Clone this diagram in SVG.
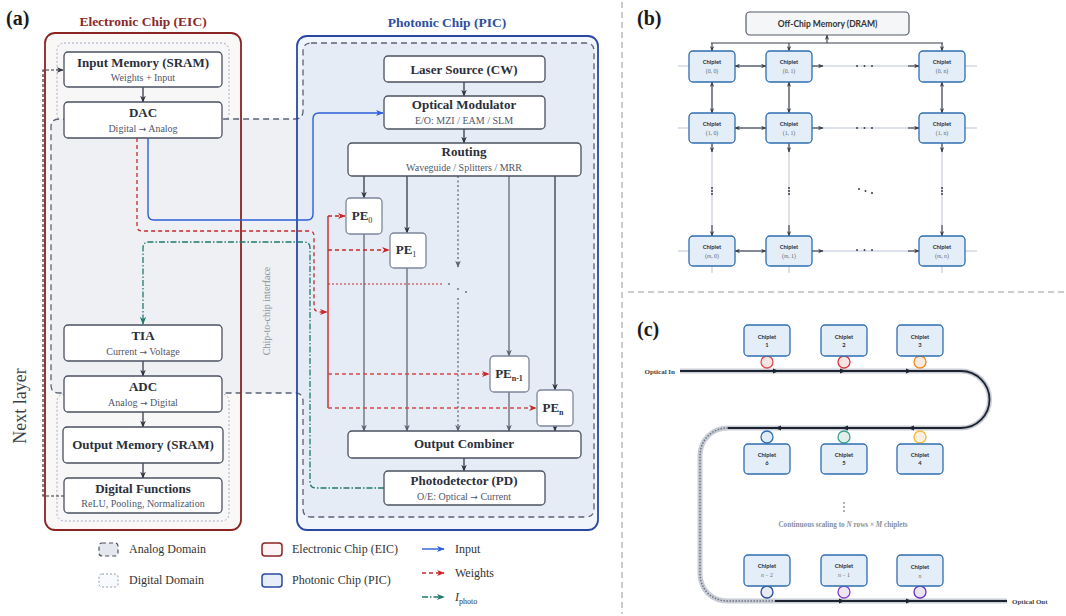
<svg xmlns="http://www.w3.org/2000/svg" width="1066" height="616" viewBox="0 0 1066 616">
<defs>
<style>
.t{font-family:'Liberation Serif','DejaVu Serif',serif;font-weight:bold;font-size:13px;fill:#2b2f3a;text-anchor:middle}
.s{font-family:'Liberation Serif','DejaVu Serif',serif;font-size:10px;fill:#50566a;text-anchor:middle}
.ar{font-family:'DejaVu Sans',sans-serif;font-size:9px}
.node{fill:#ffffff;stroke:#4a5060;stroke-width:1.3}
.pe{fill:#ffffff;stroke:#7d879a;stroke-width:1.3}
.ln{stroke:#353b4a;stroke-width:1.3;fill:none}
.lg{stroke:#6b7280;stroke-width:1.4;fill:none}
.leg{font-family:'Liberation Serif','DejaVu Serif',serif;font-size:12px;fill:#333}
.pl{font-family:'Liberation Serif','DejaVu Serif',serif;font-weight:bold;font-size:20px;fill:#1a1a1a}
.cp{fill:#e4eef9;stroke:#2f6db0;stroke-width:1.3}
.cl{font-family:Lato,'Liberation Sans',sans-serif;font-weight:bold;font-size:5.8px;fill:#2b2f3a;text-anchor:middle}
.ci{font-family:'Liberation Serif','DejaVu Serif',serif;font-size:5.8px;fill:#666;text-anchor:middle}
.grid{stroke:#dde2ea;stroke-width:2;fill:none}
.bl{stroke:#3a3f4c;stroke-width:1.1;fill:none}
.wg0{stroke:#c9cdd5;stroke-width:5;fill:none}
.wg{stroke:#1c2230;stroke-width:1.8;fill:none}
.sep{stroke:#9a9a9a;stroke-width:1;stroke-dasharray:6 4;fill:none}
</style>
<path id="analogShape" d="M311,43 H586 Q594,43 594,51 V509 Q594,517 586,517 H311 Q303,517 303,509 V401 Q303,393 295,393 H59 Q51,393 51,385 V127 Q51,119 59,119 H295 Q303,119 303,111 V51 Q303,43 311,43 Z"/>
<clipPath id="ca"><use href="#analogShape"/></clipPath>
<marker id="ad" viewBox="0 0 10 10" refX="9" refY="5" markerWidth="7" markerHeight="7" markerUnits="userSpaceOnUse" orient="auto"><path d="M0,1 L10,5 L0,9 L3,5 z" fill="#2f3542"/></marker>
<marker id="ag" viewBox="0 0 10 10" refX="9" refY="5" markerWidth="7" markerHeight="7" markerUnits="userSpaceOnUse" orient="auto"><path d="M0,1 L10,5 L0,9 L3,5 z" fill="#5b6270"/></marker>
<marker id="ab" viewBox="0 0 10 10" refX="9" refY="5" markerWidth="8" markerHeight="8" markerUnits="userSpaceOnUse" orient="auto"><path d="M0,1 L10,5 L0,9 L3,5 z" fill="#2b5fd9"/></marker>
<marker id="ar" viewBox="0 0 10 10" refX="9" refY="5" markerWidth="8" markerHeight="8" markerUnits="userSpaceOnUse" orient="auto"><path d="M0,1 L10,5 L0,9 L3,5 z" fill="#c62828"/></marker>
<marker id="agr" viewBox="0 0 10 10" refX="9" refY="5" markerWidth="8" markerHeight="8" markerUnits="userSpaceOnUse" orient="auto"><path d="M0,1 L10,5 L0,9 L3,5 z" fill="#1f7a6e"/></marker>
<marker id="as" viewBox="0 0 10 10" refX="9" refY="5" markerWidth="5.5" markerHeight="5.5" markerUnits="userSpaceOnUse" orient="auto-start-reverse"><path d="M0,1 L10,5 L0,9 L3,5 z" fill="#3a3f4c"/></marker>
</defs>

<rect x="0" y="0" width="1066" height="616" fill="#ffffff"/>

<!-- Panel separators -->
<line class="sep" x1="622" y1="2" x2="622" y2="614"/>
<line class="sep" x1="628" y1="292" x2="1066" y2="292"/>

<!-- ===== Panel (a) ===== -->
<text class="pl" x="6" y="25">(a)</text>
<text x="143" y="26" text-anchor="middle" font-family="'Liberation Serif','DejaVu Serif',serif" font-weight="bold" font-size="13.5" fill="#8b2a2a">Electronic Chip (EIC)</text>
<text x="447" y="27" text-anchor="middle" font-family="'Liberation Serif','DejaVu Serif',serif" font-weight="bold" font-size="13.5" fill="#2d4fa0">Photonic Chip (PIC)</text>

<g id="chips">
  <rect x="45" y="33" width="196" height="497" rx="10" fill="#faf7f7"/>
  <rect x="297" y="36" width="301" height="494" rx="10" fill="#f0f4fb"/>
  <rect x="57" y="43" width="172" height="78" rx="7" fill="#f8f7f7" stroke="#a6aec4" stroke-width="1" stroke-dasharray="2 2"/>
  <rect x="57" y="394" width="172" height="127" rx="7" fill="#f8f7f7" stroke="#a6aec4" stroke-width="1" stroke-dasharray="2 2"/>
  <use href="#analogShape" fill="#eff0f4"/>
  <rect x="297" y="40" width="300" height="480" fill="#e6ecf6" clip-path="url(#ca)"/>
  <use href="#analogShape" fill="none" stroke="#5a6275" stroke-width="1.3" stroke-dasharray="6 4"/>
  <rect x="45" y="33" width="196" height="497" rx="10" fill="none" stroke="#8b2323" stroke-width="1.8"/>
  <rect x="297" y="36" width="301" height="494" rx="10" fill="none" stroke="#2a48a0" stroke-width="1.8"/>
  <text transform="translate(270,311) rotate(-90)" text-anchor="middle" font-family="'Liberation Serif','DejaVu Serif',serif" font-size="10" fill="#8a8f99">Chip-to-chip interface</text>
  <text transform="translate(26,406) rotate(-90)" text-anchor="middle" font-family="'Liberation Serif','DejaVu Serif',serif" font-size="18" fill="#3a3f4a">Next layer</text>
</g>

<g id="connectors-a">
  <!-- next layer feedback -->
  <path d="M64,496 H43 V70 H63" fill="none" stroke="#333" stroke-width="1.2" stroke-dasharray="3 2" marker-end="url(#ad)"/>
  <!-- EIC vertical flow -->
  <path class="ln" d="M143,87 V102" marker-end="url(#ad)"/>
  <path class="ln" d="M143,361 V376" marker-end="url(#ad)"/>
  <path class="ln" d="M143,412 V427" marker-end="url(#ad)"/>
  <path class="ln" d="M143,463 V478" marker-end="url(#ad)"/>
  <!-- PIC flow -->
  <path class="ln" d="M464,82 V96" marker-end="url(#ad)"/>
  <path class="ln" d="M464,129 V143" marker-end="url(#ad)"/>
  <path class="ln" d="M464,458 V471" marker-end="url(#ad)"/>
  <!-- PE columns -->
  <path class="ln" d="M364,176 V198" marker-end="url(#ad)"/>
  <path class="lg" d="M364,234 V431" marker-end="url(#ag)"/>
  <path class="ln" d="M407,176 V233" marker-end="url(#ad)"/>
  <path class="lg" d="M407,268 V431" marker-end="url(#ag)"/>
  <path class="lg" d="M458,176 V267" stroke-dasharray="2 2.5" marker-end="url(#ag)"/>
  <circle cx="449" cy="284" r="1" fill="#6b7280"/>
  <circle cx="458" cy="289" r="1" fill="#6b7280"/>
  <circle cx="466" cy="292" r="1" fill="#6b7280"/>
  <path class="lg" d="M458,298 V431" stroke-dasharray="2 2.5" marker-end="url(#ag)"/>
  <path class="lg" d="M509,176 V356" marker-end="url(#ag)"/>
  <path class="lg" d="M509,392 V431" marker-end="url(#ag)"/>
  <path class="ln" d="M555,176 V390" marker-end="url(#ad)"/>
  <path class="ln" d="M555,426 V431" marker-end="url(#ad)"/>
  <!-- Input (blue) -->
  <path d="M148,138 V214 Q148,220 154,220 H307 Q313,220 313,214 V119 Q313,113 319,113 H383" fill="none" stroke="#2b5fd9" stroke-width="1.4" marker-end="url(#ab)"/>
  <!-- Weights (red) -->
  <path d="M137,138 V226 Q137,231 142,231 H309 Q314,231 314,236 V306 Q314,312 320,312 H327" fill="none" stroke="#c62828" stroke-width="1.3" stroke-dasharray="4 3" marker-end="url(#ar)"/>
  <path d="M328,216 V408" fill="none" stroke="#c62828" stroke-width="1.4"/>
  <path d="M328,216 H345" fill="none" stroke="#c62828" stroke-width="1.3" stroke-dasharray="4 3" marker-end="url(#ar)"/>
  <path d="M328,250 H389" fill="none" stroke="#c62828" stroke-width="1.3" stroke-dasharray="4 3" marker-end="url(#ar)"/>
  <path d="M328,284 H442" fill="none" stroke="#c62828" stroke-width="1.1" stroke-dasharray="2 2"/>
  <path d="M328,374 H489" fill="none" stroke="#d24a4a" stroke-width="1.3" stroke-dasharray="4 3" marker-end="url(#ar)"/>
  <path d="M328,408 H536" fill="none" stroke="#d24a4a" stroke-width="1.3" stroke-dasharray="4 3" marker-end="url(#ar)"/>
  <!-- I_photo (green) -->
  <path d="M384,488 H316 Q310,488 310,482 V248 Q310,242 304,242 H149 Q143,242 143,248 V324" fill="none" stroke="#1f7a6e" stroke-width="1.3" stroke-dasharray="6 2 1.5 2" marker-end="url(#agr)"/>
</g>

<g id="input-memory"><rect class="node" x="64" y="52" width="158" height="35" rx="4"/><text class="t" x="143" y="66.5">Input Memory (SRAM)</text><text class="s" x="143" y="80.5">Weights + Input</text></g>
<g id="dac"><rect class="node" x="64" y="102" width="158" height="36" rx="4"/><text class="t" x="143" y="116.5">DAC</text><text class="s" x="143" y="131.5">Digital <tspan class="ar">→</tspan> Analog</text></g>
<g id="tia"><rect class="node" x="64" y="325" width="158" height="36" rx="4"/><text class="t" x="143" y="339.5">TIA</text><text class="s" x="143" y="354.5">Current <tspan class="ar">→</tspan> Voltage</text></g>
<g id="adc"><rect class="node" x="64" y="376" width="158" height="36" rx="4"/><text class="t" x="143" y="390.5">ADC</text><text class="s" x="143" y="405.5">Analog <tspan class="ar">→</tspan> Digital</text></g>
<g id="output-memory"><rect class="node" x="63" y="427" width="160" height="36" rx="4"/><text class="t" x="143" y="448.5">Output Memory (SRAM)</text></g>
<g id="digital-functions"><rect class="node" x="64" y="478" width="158" height="35" rx="4"/><text class="t" x="143" y="492.5">Digital Functions</text><text class="s" x="143" y="506.5">ReLU, Pooling, Normalization</text></g>

<g id="laser"><rect class="node" x="384" y="56" width="161" height="26" rx="4"/><text class="t" x="464" y="73.5">Laser Source (CW)</text></g>
<g id="modulator"><rect class="node" x="384" y="96" width="161" height="33" rx="4"/><text class="t" x="464" y="108.5">Optical Modulator</text><text class="s" x="464" y="123.5">E/O: MZI / EAM / SLM</text></g>
<g id="routing"><rect class="node" x="348" y="143" width="233" height="33" rx="4"/><text class="t" x="464" y="155.5">Routing</text><text class="s" x="464" y="170.5">Waveguide / Splitters / MRR</text></g>
<g id="pe0"><rect class="pe" x="346" y="198" width="36" height="36" rx="4"/><text class="t" x="362" y="220" font-size="12">PE<tspan font-size="8" font-weight="normal" dy="3">0</tspan></text></g>
<g id="pe1"><rect class="pe" x="390" y="233" width="36" height="35" rx="4"/><text class="t" x="406" y="254" font-size="12">PE<tspan font-size="8" font-weight="normal" dy="3">1</tspan></text></g>
<g id="pen1"><rect class="pe" x="490" y="356" width="39" height="36" rx="4"/><text class="t" x="509" y="378" font-size="12">PE<tspan font-size="8" dy="3">n-1</tspan></text></g>
<g id="pen"><rect class="pe" x="537" y="390" width="36" height="36" rx="4"/><text class="t" x="553" y="412" font-size="12">PE<tspan font-size="8" dy="3">n</tspan></text></g>
<g id="combiner"><rect class="node" x="348" y="431" width="233" height="27" rx="4"/><text class="t" x="464" y="447.5">Output Combiner</text></g>
<g id="photodetector"><rect class="node" x="384" y="471" width="161" height="34" rx="4"/><text class="t" x="464" y="484.5">Photodetector (PD)</text><text class="s" x="464" y="499.5">O/E: Optical <tspan class="ar">→</tspan> Current</text></g>

<!-- Legend -->
<g id="legend">
  <rect x="99" y="543" width="19" height="13" rx="3" fill="#e4e8ee" stroke="#4a5060" stroke-width="1.2" stroke-dasharray="4 3"/>
  <text class="leg" x="129" y="553">Analog Domain</text>
  <rect x="99" y="574" width="19" height="13" rx="3" fill="#f8fafc" stroke="#8a9ab8" stroke-width="1" stroke-dasharray="2 2"/>
  <text class="leg" x="129" y="584">Digital Domain</text>
  <rect x="262" y="543" width="20" height="13" rx="3" fill="#fbf5f5" stroke="#8b2323" stroke-width="1.5"/>
  <text class="leg" x="292" y="553">Electronic Chip (EIC)</text>
  <rect x="262" y="574" width="20" height="13" rx="3" fill="#e8eef8" stroke="#2a48a0" stroke-width="1.5"/>
  <text class="leg" x="292" y="584">Photonic Chip (PIC)</text>
  <path d="M422,549 H444" stroke="#2b5fd9" stroke-width="1.4" fill="none" marker-end="url(#ab)"/>
  <text class="leg" x="455" y="553">Input</text>
  <path d="M422,573 H444" stroke="#c62828" stroke-width="1.3" stroke-dasharray="4 3" fill="none" marker-end="url(#ar)"/>
  <text class="leg" x="455" y="577">Weights</text>
  <path d="M422,597 H444" stroke="#1f7a6e" stroke-width="1.3" stroke-dasharray="6 2 1.5 2" fill="none" marker-end="url(#agr)"/>
  <text class="leg" x="455" y="601"><tspan font-style="italic">I</tspan><tspan font-size="8" dy="3">photo</tspan></text>
</g>

<!-- ===== Panel (b) ===== -->
<text class="pl" x="637" y="25">(b)</text>
<g id="grid-b">
  <line class="grid" x1="678" y1="66" x2="977" y2="66"/>
  <line class="grid" x1="678" y1="128" x2="977" y2="128"/>
  <line class="grid" x1="678" y1="251" x2="977" y2="251"/>
  <line class="grid" x1="712" y1="82" x2="712" y2="273"/>
  <line class="grid" x1="789" y1="82" x2="789" y2="273"/>
  <line class="grid" x1="942" y1="82" x2="942" y2="273"/>
</g>
<g id="connectors-b">
  <path class="bl" d="M711,43 H943"/>
  <path class="bl" d="M827,43 V35" marker-end="url(#as)"/>
  <path class="bl" d="M712,43 V51" marker-end="url(#as)"/>
  <path class="bl" d="M789,43 V51" marker-end="url(#as)"/>
  <path class="bl" d="M942,43 V51" marker-end="url(#as)"/>
  <path class="bl" d="M735,66 H766" marker-start="url(#as)" marker-end="url(#as)"/>
  <path class="bl" d="M812,66 H823" marker-end="url(#as)"/>
  <path class="bl" d="M908,66 H919" marker-end="url(#as)"/>
  <path class="bl" d="M735,128 H766" marker-start="url(#as)" marker-end="url(#as)"/>
  <path class="bl" d="M812,128 H823" marker-end="url(#as)"/>
  <path class="bl" d="M908,128 H919" marker-end="url(#as)"/>
  <path class="bl" d="M735,251 H766" marker-start="url(#as)" marker-end="url(#as)"/>
  <path class="bl" d="M812,251 H823" marker-end="url(#as)"/>
  <path class="bl" d="M908,251 H919" marker-end="url(#as)"/>
  <path class="bl" d="M712,82 V113" marker-start="url(#as)" marker-end="url(#as)"/>
  <path class="bl" d="M789,82 V113" marker-start="url(#as)" marker-end="url(#as)"/>
  <path class="bl" d="M942,82 V113" marker-start="url(#as)" marker-end="url(#as)"/>
  <path class="bl" d="M712,143 V152" marker-end="url(#as)"/>
  <path class="bl" d="M789,143 V152" marker-end="url(#as)"/>
  <path class="bl" d="M942,143 V152" marker-end="url(#as)"/>
  <path class="bl" d="M712,225 V236" marker-end="url(#as)"/>
  <path class="bl" d="M789,225 V236" marker-end="url(#as)"/>
  <path class="bl" d="M942,225 V236" marker-end="url(#as)"/>
  <g fill="#3a3f4c">
    <circle cx="857" cy="66" r="1"/><circle cx="864.5" cy="66" r="1"/><circle cx="872" cy="66" r="1"/>
    <circle cx="857" cy="128" r="1"/><circle cx="864.5" cy="128" r="1"/><circle cx="872" cy="128" r="1"/>
    <circle cx="857" cy="250" r="1"/><circle cx="864.5" cy="250" r="1"/><circle cx="872" cy="250" r="1"/>
    <circle cx="712" cy="188" r="1"/><circle cx="712" cy="191" r="1"/><circle cx="712" cy="194" r="1"/>
    <circle cx="789" cy="188" r="1"/><circle cx="789" cy="191" r="1"/><circle cx="789" cy="194" r="1"/>
    <circle cx="942" cy="188" r="1"/><circle cx="942" cy="191" r="1"/><circle cx="942" cy="194" r="1"/>
    <circle cx="859" cy="189" r="1"/><circle cx="865.5" cy="191" r="1"/><circle cx="872" cy="193" r="1"/>
  </g>
</g>
<g id="dram"><rect x="746" y="12" width="163" height="23" rx="4" fill="#f5f6f8" stroke="#555a66" stroke-width="1.2"/><text x="827.5" y="27" text-anchor="middle" font-family="Lato,'Liberation Sans',sans-serif" font-weight="bold" font-size="8.5" fill="#333">Off-Chip Memory (DRAM)</text></g>
<g id="b00"><rect class="cp" x="689" y="51" width="46" height="31" rx="4"/><text class="cl" x="712" y="64">Chiplet</text><text class="ci" x="712" y="73">(0, 0)</text></g>
<g id="b01"><rect class="cp" x="766" y="51" width="46" height="31" rx="4"/><text class="cl" x="789" y="64">Chiplet</text><text class="ci" x="789" y="73">(0, 1)</text></g>
<g id="b0n"><rect class="cp" x="919" y="51" width="46" height="31" rx="4"/><text class="cl" x="942" y="64">Chiplet</text><text class="ci" x="942" y="73">(0, n)</text></g>
<g id="b10"><rect class="cp" x="689" y="113" width="46" height="30" rx="4"/><text class="cl" x="712" y="126">Chiplet</text><text class="ci" x="712" y="135">(1, 0)</text></g>
<g id="b11"><rect class="cp" x="766" y="113" width="46" height="30" rx="4"/><text class="cl" x="789" y="126">Chiplet</text><text class="ci" x="789" y="135">(1, 1)</text></g>
<g id="b1n"><rect class="cp" x="919" y="113" width="46" height="30" rx="4"/><text class="cl" x="942" y="126">Chiplet</text><text class="ci" x="942" y="135">(1, n)</text></g>
<g id="bm0"><rect class="cp" x="689" y="236" width="46" height="30" rx="4"/><text class="cl" x="712" y="249">Chiplet</text><text class="ci" x="712" y="258">(<tspan font-style="italic">m</tspan>, 0)</text></g>
<g id="bm1"><rect class="cp" x="766" y="236" width="46" height="30" rx="4"/><text class="cl" x="789" y="249">Chiplet</text><text class="ci" x="789" y="258">(<tspan font-style="italic">m</tspan>, 1)</text></g>
<g id="bmn"><rect class="cp" x="919" y="236" width="46" height="30" rx="4"/><text class="cl" x="942" y="249">Chiplet</text><text class="ci" x="942" y="258">(<tspan font-style="italic">m</tspan>, <tspan font-style="italic">n</tspan>)</text></g>

<!-- ===== Panel (c) ===== -->
<text class="pl" x="637" y="336">(c)</text>
<g id="waveguide">
  <path class="wg0" d="M680,371 H961 A28.5,28.5 0 0 1 961,428 H728"/>
  <path class="wg0" d="M728,428 C712,428 700,440 700,456 V573 C700,590 712,601 728,601 H775"/>
  <path d="M728,428 C712,428 700,440 700,456 V573 C700,590 712,601 728,601 H775" fill="none" stroke="#6b7280" stroke-width="1.5" stroke-dasharray="1.5 1.5"/>
  <path class="wg0" d="M775,601 H1007"/>
  <path class="wg" d="M680,371 H961 A28.5,28.5 0 0 1 961,428 H728"/>
  <path class="wg" d="M775,601 H1007"/>
  <g fill="#1c2230">
    <polygon points="773,368.5 779,371 773,373.5"/>
    <polygon points="840,368.5 846,371 840,373.5"/>
    <polygon points="906,368.5 912,371 906,373.5"/>
    <polygon points="781,425.5 775,428 781,430.5"/>
    <polygon points="848,425.5 842,428 848,430.5"/>
    <polygon points="914,425.5 908,428 914,430.5"/>
    <polygon points="839,598.5 845,601 839,603.5"/>
    <polygon points="906,598.5 912,601 906,603.5"/>
  </g>
  <text x="675" y="373.5" text-anchor="end" font-family="'Liberation Serif','DejaVu Serif',serif" font-weight="bold" font-size="7" fill="#444">Optical In</text>
  <text x="1012" y="603.5" font-family="'Liberation Serif','DejaVu Serif',serif" font-weight="bold" font-size="7" fill="#444">Optical Out</text>
</g>
<g id="rings" stroke-width="1.3">
  <circle cx="767" cy="362" r="6" fill="#f6e4e4" stroke="#e04a4a"/>
  <circle cx="844" cy="362" r="6" fill="#f6e4e4" stroke="#d9363e"/>
  <circle cx="920" cy="362" r="6" fill="#f7ebe1" stroke="#f08a1c"/>
  <circle cx="767" cy="437" r="6" fill="#e0ebf4" stroke="#2a6db5"/>
  <circle cx="844" cy="437" r="6" fill="#e2eeea" stroke="#3aa58f"/>
  <circle cx="920" cy="437" r="6" fill="#f8f1e0" stroke="#f5b942"/>
  <circle cx="767" cy="592" r="6" fill="#e8ebf2" stroke="#2a4a9a"/>
  <circle cx="844" cy="592" r="6" fill="#ece6f4" stroke="#8a3fd1"/>
  <circle cx="920" cy="592" r="6" fill="#e8e6f2" stroke="#6a2fb8"/>
</g>
<g id="c1"><rect class="cp" x="744" y="325" width="46" height="31" rx="4"/><text class="cl" x="767" y="339">Chiplet</text><text class="cl" x="767" y="347">1</text></g>
<g id="c2"><rect class="cp" x="821" y="325" width="46" height="31" rx="4"/><text class="cl" x="844" y="339">Chiplet</text><text class="cl" x="844" y="347">2</text></g>
<g id="c3"><rect class="cp" x="897" y="325" width="46" height="31" rx="4"/><text class="cl" x="920" y="339">Chiplet</text><text class="cl" x="920" y="347">3</text></g>
<g id="c6"><rect class="cp" x="744" y="444" width="46" height="30" rx="4"/><text class="cl" x="767" y="457">Chiplet</text><text class="cl" x="767" y="465">6</text></g>
<g id="c5"><rect class="cp" x="821" y="444" width="46" height="30" rx="4"/><text class="cl" x="844" y="457">Chiplet</text><text class="cl" x="844" y="465">5</text></g>
<g id="c4"><rect class="cp" x="897" y="444" width="46" height="30" rx="4"/><text class="cl" x="920" y="457">Chiplet</text><text class="cl" x="920" y="465">4</text></g>
<g id="cn2"><rect class="cp" x="744" y="555" width="46" height="31" rx="4"/><text class="cl" x="767" y="568">Chiplet</text><text class="ci" x="767" y="577"><tspan font-style="italic">n</tspan> − 2</text></g>
<g id="cn1"><rect class="cp" x="821" y="555" width="46" height="31" rx="4"/><text class="cl" x="844" y="568">Chiplet</text><text class="ci" x="844" y="577"><tspan font-style="italic">n</tspan> − 1</text></g>
<g id="cn"><rect class="cp" x="897" y="555" width="46" height="31" rx="4"/><text class="cl" x="920" y="569">Chiplet</text><text class="ci" x="920" y="578" font-style="italic">n</text></g>
<g id="scaling" fill="#8a8f99">
  <circle cx="844" cy="503" r="0.9"/><circle cx="844" cy="507" r="0.9"/><circle cx="844" cy="511" r="0.9"/>
  <text x="843" y="526.5" text-anchor="middle" font-family="'Liberation Serif','DejaVu Serif',serif" font-weight="bold" font-size="7.2">Continuous scaling to <tspan font-style="italic">N</tspan> rows × <tspan font-style="italic">M</tspan> chiplets</text>
</g>
</svg>
